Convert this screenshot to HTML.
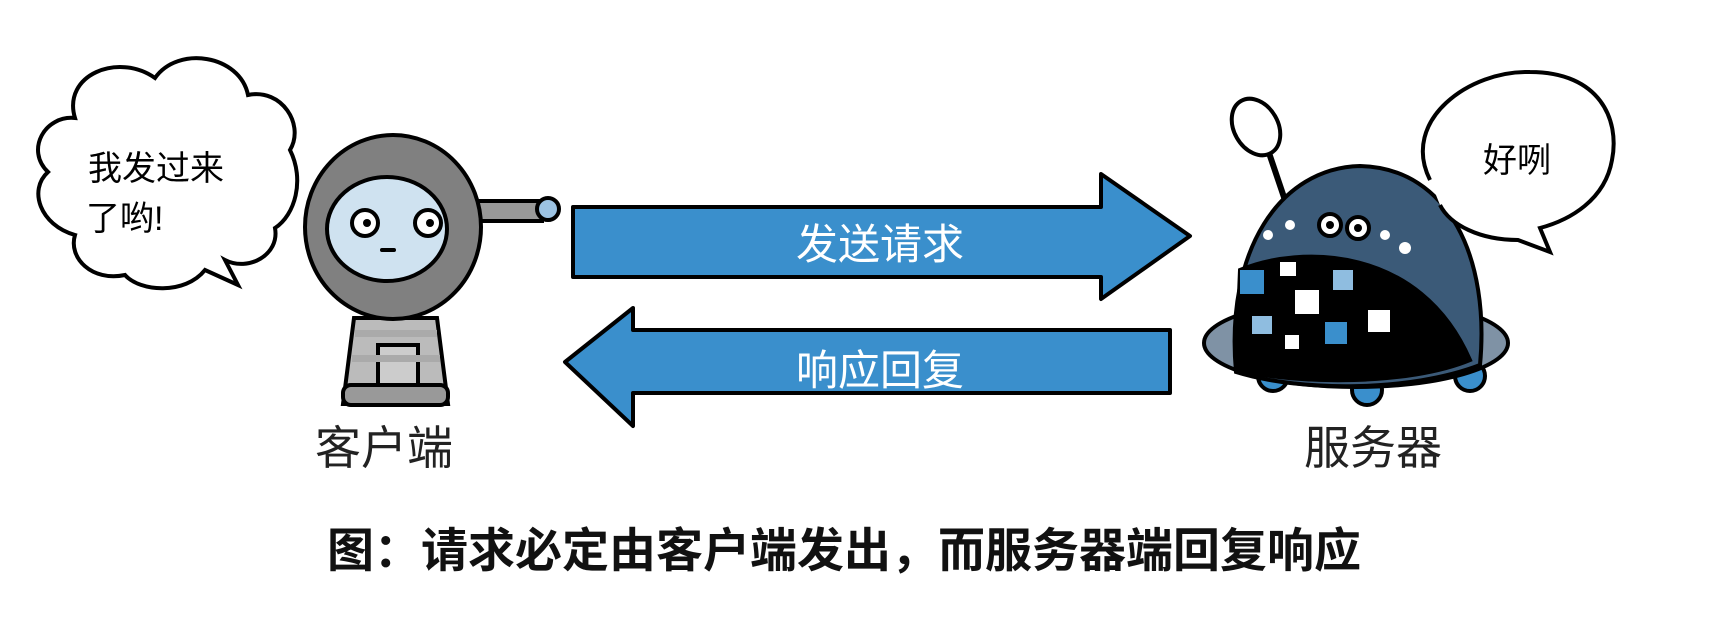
<!DOCTYPE html>
<html><head><meta charset="utf-8"><style>
html,body{margin:0;padding:0;background:#fff;}
svg{display:block;font-family:"Liberation Sans","Noto Sans CJK SC",sans-serif;}
</style></head><body>
<svg width="1727" height="617" viewBox="0 0 1727 617" xmlns="http://www.w3.org/2000/svg">
<!-- cloud bubble -->
<path d="M75,118 C62,75 118,52 155,78 C178,45 240,55 248,95 C282,88 305,125 290,150 C305,180 295,215 275,228 C280,255 248,272 225,260 L238,285 L205,270 C185,295 140,292 125,275 C92,282 68,258 75,235 C40,225 28,190 48,172 C25,150 45,115 75,118 Z" fill="#fff" stroke="#000" stroke-width="4"/>
<text x="88" y="180" font-size="34" fill="#000">我发过来</text>
<text x="86" y="230" font-size="34" fill="#000">了哟!</text>
<!-- client robot -->
<g stroke="#000" stroke-width="4">
<rect x="470" y="201" width="72" height="20" fill="#999"/>
<circle cx="548" cy="209" r="11" fill="#9cc3e3"/>
<path d="M354,318 L437,318 L448,404 L343,404 Z" fill="#bbb"/>
<rect x="378" y="345" width="40" height="55" fill="#ccc"/>
<rect x="343" y="385" width="105" height="20" rx="8" fill="#999"/>
<ellipse cx="393" cy="227" rx="88" ry="92" fill="#808080"/>
<ellipse cx="387" cy="229" rx="60" ry="52" fill="#cfe2f0"/>
<circle cx="365" cy="223" r="13" fill="#fff"/>
<circle cx="428" cy="223" r="13" fill="#fff"/>
</g>
<g fill="#aaa"><rect x="355" y="330" width="82" height="7"/><rect x="352" y="355" width="88" height="7"/></g>
<circle cx="367" cy="223" r="4"/><circle cx="430" cy="223" r="4"/>
<rect x="380" y="248" width="16" height="4" rx="2"/>
<text x="384" y="464" font-size="46" text-anchor="middle" fill="#222">客户端</text>
<!-- arrows -->
<path d="M573,207 L1101,207 L1101,174 L1190,236 L1101,299 L1101,277 L573,277 Z" fill="#3a8fcc" stroke="#000" stroke-width="4" stroke-linejoin="round"/>
<text x="880" y="259" font-size="42" fill="#fff" text-anchor="middle">发送请求</text>
<path d="M1170,330 L633,330 L633,308 L565,362 L633,426 L633,393 L1170,393 Z" fill="#3a8fcc" stroke="#000" stroke-width="4" stroke-linejoin="round"/>
<text x="880" y="385" font-size="42" fill="#fff" text-anchor="middle">响应回复</text>
<!-- server -->
<g stroke="#000" stroke-width="4">
<line x1="1268" y1="150" x2="1290" y2="215" stroke-width="6"/>
<ellipse cx="1256" cy="127" rx="22" ry="30" fill="#fff" transform="rotate(-30 1256 127)"/>
<circle cx="1273" cy="376" r="15" fill="#3a8fcc"/>
<circle cx="1367" cy="390" r="15" fill="#3a8fcc"/>
<circle cx="1470" cy="376" r="15" fill="#3a8fcc"/>
<ellipse cx="1356" cy="343" rx="152" ry="44" fill="#7f92a5"/>
<path d="M1236,372 C1225,250 1280,168 1360,166 C1450,168 1490,260 1480,365 C1410,392 1300,392 1236,372 Z" fill="#3b5a78"/>
<path d="M1240,270 C1300,245 1420,245 1470,360 C1410,385 1300,385 1236,370 Z" fill="#000"/>
<path d="M1430,180 C1400,120 1470,70 1530,72 C1600,72 1620,120 1612,160 C1605,200 1570,220 1540,228 L1550,252 L1518,240 C1480,240 1450,225 1440,205" fill="#fff"/>
<circle cx="1330" cy="225" r="11" fill="#fff"/>
<circle cx="1358" cy="228" r="11" fill="#fff"/>
</g>
<circle cx="1330" cy="225" r="4"/><circle cx="1358" cy="228" r="4"/>
<g fill="#fff"><circle cx="1268" cy="235" r="5"/><circle cx="1290" cy="225" r="5"/><circle cx="1385" cy="235" r="5"/><circle cx="1405" cy="248" r="6"/></g>
<g fill="#fff"><rect x="1280" y="262" width="16" height="14"/><rect x="1295" y="290" width="24" height="24"/><rect x="1285" y="335" width="14" height="14"/><rect x="1368" y="310" width="22" height="22"/></g>
<g fill="#3a8fcc"><rect x="1240" y="270" width="24" height="24"/><rect x="1325" y="322" width="22" height="22"/></g>
<g fill="#8fbde0"><rect x="1252" y="316" width="20" height="18"/><rect x="1333" y="270" width="20" height="20"/></g>
<text x="1483" y="172" font-size="34" fill="#000">好咧</text>
<text x="1373" y="464" font-size="46" text-anchor="middle" fill="#222">服务器</text>
<!-- caption -->
<text x="844" y="567" font-size="47" font-weight="bold" text-anchor="middle" fill="#111">图：请求必定由客户端发出，而服务器端回复响应</text>
</svg>
</body></html>
